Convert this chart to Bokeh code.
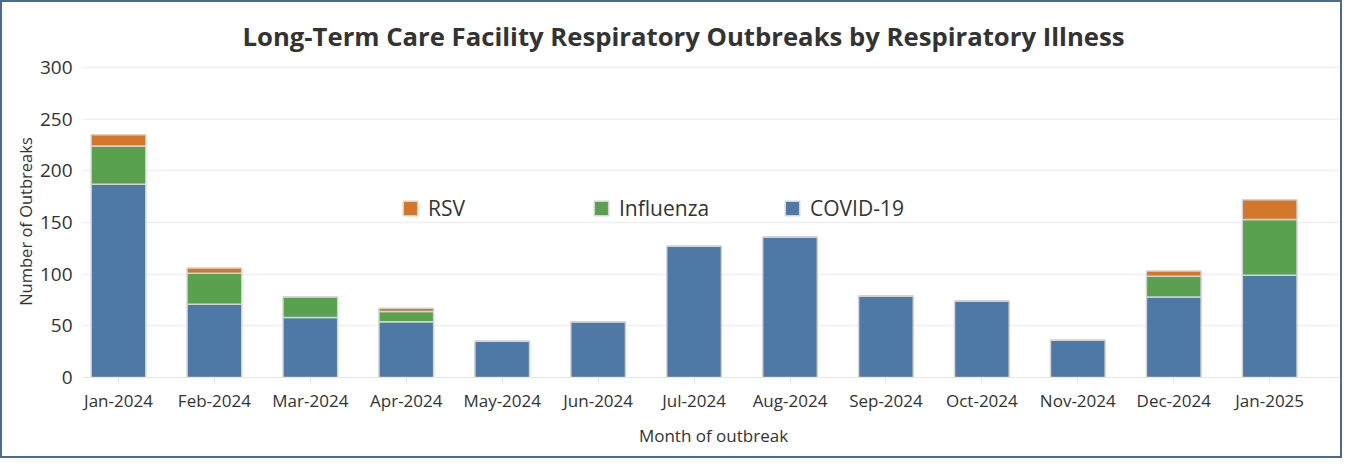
from bokeh.plotting import figure
from bokeh.models import (ColumnDataSource, Range1d, FixedTicker, Legend, LegendItem, Title)
from bokeh.embed import file_html
from bokeh.resources import INLINE

months = ["Jan-2024", "Feb-2024", "Mar-2024", "Apr-2024", "May-2024", "Jun-2024",
          "Jul-2024", "Aug-2024", "Sep-2024", "Oct-2024", "Nov-2024", "Dec-2024", "Jan-2025"]
covid = [187, 71, 58, 54, 35, 54, 127, 136, 79, 74, 36, 78, 99]
influenza = [37, 30, 20, 10, 0, 0, 0, 0, 0, 0, 0, 20, 54]
rsv = [11, 5, 0, 3, 0, 0, 0, 0, 0, 0, 0, 5, 19]
y_ticks = [0, 50, 100, 150, 200, 250, 300]

series = ["COVID-19", "Influenza", "RSV"]
colors = ["#4e79a7", "#59a14f", "#d37629"]

FONT = "Open Sans"
TXT = "#333333"

idx = list(range(len(months)))
source = ColumnDataSource(data={"x": idx, "COVID-19": covid, "Influenza": influenza, "RSV": rsv})

p = figure(width=1342, height=458, output_backend="svg", toolbar_location=None,
           x_range=Range1d(-0.375, 12.78), y_range=Range1d(0, 302),
           min_border_left=80, min_border_right=0, min_border_top=63, min_border_bottom=83)
p.styles = {"border": "2px solid #4a6a8f", "box-sizing": "border-box"}
p.outline_line_color = None
p.background_fill_color = "white"

renderers = p.vbar_stack(series, x="x", width=0.57, source=source, color=colors,
                         line_color="#d4d4d4", line_width=1.5)

title = Title(text="Long-Term Care Facility Respiratory Outbreaks by Respiratory Illness",
              align="left", text_font=FONT, text_font_size="25.7px", text_font_style="bold",
              text_color=TXT, standoff=24, offset=160)
p.add_layout(title, "above")

# axes
p.yaxis.ticker = FixedTicker(ticks=y_ticks)
p.yaxis.axis_label = "Number of Outbreaks"
p.yaxis.axis_label_text_font = FONT
p.yaxis.axis_label_text_font_size = "16.5px"
p.yaxis.axis_label_text_font_style = "normal"
p.yaxis.axis_label_text_color = TXT
p.yaxis.axis_label_standoff = 0
p.yaxis.major_label_text_font = FONT
p.yaxis.major_label_text_font_size = "19px"
p.yaxis.major_label_text_color = TXT
p.yaxis.axis_line_color = None
p.yaxis.major_tick_line_color = None
p.yaxis.minor_tick_line_color = None
p.yaxis.major_label_standoff = 4

p.xaxis.ticker = FixedTicker(ticks=idx)
p.xaxis.major_label_overrides = {i: m for i, m in zip(idx, months)}
p.xaxis.axis_label = "Month of outbreak"
p.xaxis.axis_label_text_font = FONT
p.xaxis.axis_label_text_font_size = "17px"
p.xaxis.axis_label_text_font_style = "normal"
p.xaxis.axis_label_text_color = TXT
p.xaxis.axis_label_standoff = 9
p.xaxis.major_label_text_font = FONT
p.xaxis.major_label_text_font_size = "17px"
p.xaxis.major_label_text_color = TXT
p.xaxis.axis_line_color = "#e6e6e6"
p.xaxis.major_tick_line_color = "#e6e6e6"
p.xaxis.major_tick_in = 0
p.xaxis.major_tick_out = 6
p.xaxis.minor_tick_line_color = None
p.xaxis.major_label_standoff = 5

p.xgrid.grid_line_color = None
p.ygrid.grid_line_color = "#efefef"
p.ygrid.grid_line_width = 1.5

# legend (order as in reference: RSV, Influenza, COVID-19)
items = [LegendItem(label=series[i], renderers=[renderers[i]]) for i in (2, 1, 0)]
legend = Legend(items=items, orientation="horizontal", location=(319, 155),
                glyph_width=18, glyph_height=18, label_standoff=9, label_width=164,
                spacing=0, padding=0, margin=0, border_line_color=None,
                background_fill_alpha=0, label_text_font=FONT, label_text_font_size="21px",
                label_text_color=TXT)
p.add_layout(legend, "center")

open("out.html", "w").write(file_html(p, INLINE))
